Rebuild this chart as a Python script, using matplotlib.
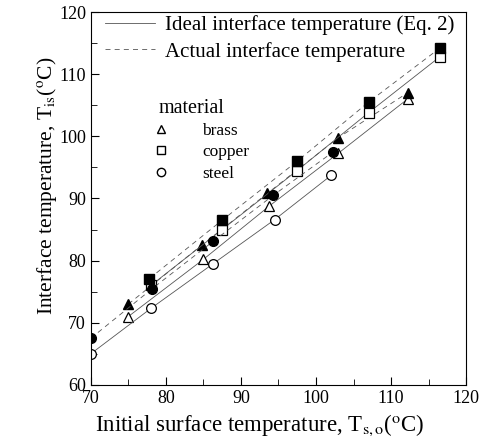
import matplotlib
matplotlib.use("Agg")
import matplotlib.pyplot as plt
from matplotlib.lines import Line2D
from matplotlib.ticker import MultipleLocator

plt.rcParams['font.family'] = ['Liberation Serif', 'DejaVu Serif']
plt.rcParams['mathtext.fontset'] = 'stix'

# ideal (open markers) and actual (filled markers) interface temperatures
steel_x = [70, 78, 86.3, 94.5, 102]
steel_ideal = [65, 72.3, 79.5, 86.6, 93.7]
steel_act_x = [70, 78.2, 86.3, 94.3, 102.3]
steel_actual = [67.5, 75.5, 83.1, 90.5, 97.5]

brass_x = [75, 85, 93.8, 103, 112.2]
brass_ideal = [71, 80.2, 88.8, 97.3, 106]
brass_act_x = [75, 84.8, 93.5, 103, 112.2]
brass_actual = [73, 82.5, 90.8, 99.8, 107]

copper_x = [78, 87.5, 97.5, 107, 116.5]
copper_ideal = [76, 85, 94.5, 103.8, 112.8]
copper_act_x = [77.8, 87.5, 97.5, 107, 116.5]
copper_actual = [77.1, 86.5, 96, 105.5, 114.2]

materials = ['brass', 'copper', 'steel']
markers = ['^', 's', 'o']

fig = plt.figure(figsize=(4.83, 4.47), dpi=100)
ax = fig.add_axes([0.188, 0.139, 0.777, 0.834])

groups = [
    (brass_x, brass_ideal, brass_act_x, brass_actual, '^'),
    (copper_x, copper_ideal, copper_act_x, copper_actual, 's'),
    (steel_x, steel_ideal, steel_act_x, steel_actual, 'o'),
]
for xi, yi, xa, ya, m in groups:
    ax.plot(xi, yi, '-', color='#555555', lw=0.6)
    ax.plot(xa, ya, '--', color='#555555', lw=0.6, dashes=(6, 5))
    ax.plot(xi, yi, m, ms=7, mfc='white', mec='black', mew=0.9, ls='none')
    ax.plot(xa, ya, m, ms=7, mfc='black', mec='black', ls='none')

ax.set_xlim(70, 120)
ax.set_ylim(60, 120)
ax.xaxis.set_major_locator(MultipleLocator(10))
ax.xaxis.set_minor_locator(MultipleLocator(5))
ax.yaxis.set_major_locator(MultipleLocator(10))
ax.yaxis.set_minor_locator(MultipleLocator(5))
ax.tick_params(which='both', direction='in', labelsize=13, top=False, right=False)
ax.tick_params(which='major', length=6)
ax.tick_params(which='minor', length=4)

ax.set_xlabel(r'Initial surface temperature, T$_{\mathrm{s,o}}$($^{\mathrm{o}}$C)', fontsize=16.5)
ax.set_ylabel(r'Interface temperature, T$_{\mathrm{is}}$($^{\mathrm{o}}$C)', fontsize=15.5)
ax.xaxis.set_label_coords(0.45, -0.075)
ax.yaxis.set_label_coords(-0.085, 0.535)

line_handles = [
    Line2D([], [], color='#555555', lw=0.6, ls='-'),
    Line2D([], [], color='#555555', lw=0.6, ls='--', dashes=(6, 5)),
]
leg1 = ax.legend(line_handles, ['Ideal interface temperature (Eq. 2)', 'Actual interface temperature'],
                 loc='upper left', bbox_to_anchor=(0.0, 1.03), frameon=False, fontsize=15,
                 handlelength=2.4, handletextpad=0.45, borderaxespad=0.3, labelspacing=0.3)
ax.add_artist(leg1)

marker_handles = [Line2D([], [], marker=m, ms=6, mfc='white', mec='black', ls='none') for m in markers]
leg2 = ax.legend(marker_handles, materials, title='material', loc='upper left',
                 bbox_to_anchor=(0.14, 0.81), frameon=False, fontsize=12.5,
                 title_fontsize=14.5, handletextpad=2.3, labelspacing=0.3, handlelength=0.2)
leg2._legend_box.align = 'left'

fig.savefig('out.png', dpi=100)
